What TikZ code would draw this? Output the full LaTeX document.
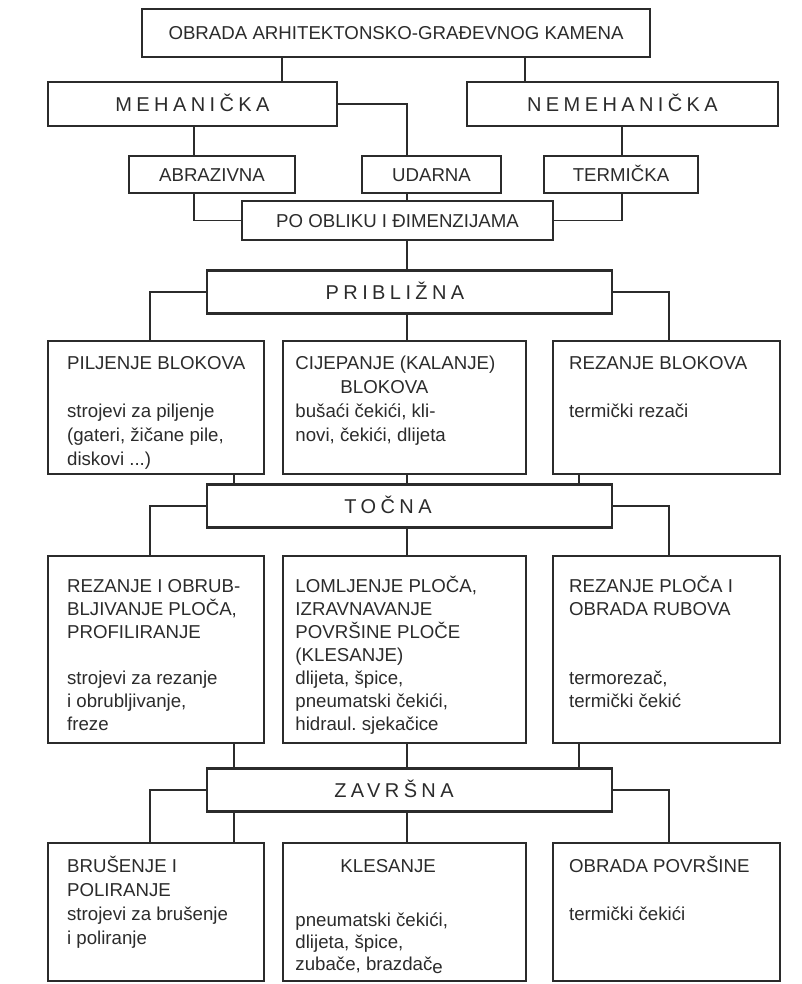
\documentclass[tikz,border=0pt]{standalone}
\usepackage{fontspec}
\setmainfont{Liberation Sans}
\usetikzlibrary{positioning}

\definecolor{ink}{HTML}{2B2B2B}
\newcommand\spaced[1]{{\addfontfeature{LetterSpace=22}#1}}
\newcommand\topstrut{\rule{0pt}{14pt}}
\frenchspacing

\tikzset{
  frame/.style={draw=ink, line width=1.7pt, inner sep=0pt, text=ink,
    text height=10pt, text depth=0pt, font=\fontsize{14}{17}\selectfont},
  wide/.style={frame, text height=10.7pt, font=\fontsize{15}{18}\selectfont},
  stage/.style={frame, minimum width=303.75pt, minimum height=32.25pt},
  caption/.style={inner sep=0pt, text=ink, text height=10.7pt, text depth=0pt,
    font=\fontsize{15}{18}\selectfont},
  note/.style={inner sep=0pt, anchor=north west, align=left, text=ink,
    font=\fontsize{14}{18}\selectfont},
  wire/.style={draw=ink, line width=0.85pt},
}

\begin{document}
\begin{tikzpicture}[x=0.75pt, y=-0.75pt]
    \useasboundingbox (0,0) rectangle (801,984);

    \coordinate (g1) at (282,0);
    \coordinate (g2) at (525,0);
    \coordinate (g3) at (194,0);
    \coordinate (g4) at (407,0);
    \coordinate (g5) at (622,0);
    \coordinate (g6) at (150,0);
    \coordinate (g7) at (669,0);
    \coordinate (g8) at (234,0);
    \coordinate (g9) at (579,0);

    \node (top) [frame, minimum width=381pt, minimum height=36pt] at (396,33) {OBRADA ARHITEKTONSKO-GRAĐEVNOG KAMENA};
    \node (meh) [wide, minimum width=216.75pt, minimum height=33pt] at (192.5,104) {\spaced{MEHANIČKA}};
    \node (nemeh) [wide, minimum width=233.25pt, minimum height=33pt] at (622.5,104) {\spaced{NEMEHANIČKA}};
    \node (abr) [frame, minimum width=124.5pt, minimum height=27.75pt] at (212,174.5) {ABRAZIVNA};
    \node (udar) [frame, minimum width=104.25pt, minimum height=27.75pt] at (431.5,174.5) {UDARNA};
    \node (term) [frame, minimum width=115.5pt, minimum height=27.75pt] at (621,174.5) {TERMIČKA};
    \node (po) [frame, minimum width=233.25pt, minimum height=29.25pt] at (397.5,220.5) {PO OBLIKU I ĐIMENZIJAMA};

    \node (pri) [stage] at (409.5,292) {};
    \node (pri-t) [caption] at (395,292) {\spaced{PRIBLIŽNA}};
    \node (toc) [stage] at (409.5,506) {};
    \node (toc-t) [caption] at (388,506) {\spaced{TOČNA}};
    \node (zav) [stage] at (409.5,790) {};
    \node (zav-t) [caption] at (394,790) {\spaced{ZAVRŠNA}};

    \node (pil) [frame, minimum width=162pt, minimum height=99.75pt] at (156,407.5) {};
    \node (cij) [frame, minimum width=182.25pt, minimum height=99.75pt] at (404.5,407.5) {};
    \node (rezb) [frame, minimum width=170.25pt, minimum height=99.75pt] at (666.5,407.5) {};
    \node (rez) [frame, minimum width=162pt, minimum height=140.25pt] at (156,649.5) {};
    \node (lom) [frame, minimum width=182.25pt, minimum height=140.25pt] at (404.5,649.5) {};
    \node (rezp) [frame, minimum width=170.25pt, minimum height=140.25pt] at (666.5,649.5) {};
    \node (bru) [frame, minimum width=162pt, minimum height=103.5pt] at (156,912) {};
    \node (kle) [frame, minimum width=182.25pt, minimum height=103.5pt] at (404.5,912) {};
    \node (obr) [frame, minimum width=170.25pt, minimum height=103.5pt] at (666.5,912) {};

    \node (pil-t) [note, below right=7.75pt and 15pt of pil.north west]
        {\topstrut PILJENJE BLOKOVA\\[18pt] strojevi za piljenje\\ (gateri, žičane pile,\\ diskovi ...)};
    \node (cij-t) [note, below right=7.75pt and 10pt of cij.north west]
        {\topstrut CIJEPANJE (KALANJE)\\ \hspace*{33.75pt}BLOKOVA\\ bušaći čekići, kli-\\ novi, čekići, dlijeta};
    \node (rezb-t) [note, below right=7.75pt and 12.75pt of rezb.north west]
        {\topstrut REZANJE BLOKOVA\\[18pt] termički rezači};

    \node (rez-t) [note, font=\fontsize{14}{17.25}\selectfont, below right=13.75pt and 15pt of rez.north west]
        {\topstrut REZANJE I OBRUB-\\ BLJIVANJE PLOČA,\\ PROFILIRANJE\\[17.25pt] strojevi za rezanje\\ i obrubljivanje,\\ freze};
    \node (lom-t) [note, font=\fontsize{14}{17.25}\selectfont, below right=13.75pt and 10pt of lom.north west]
        {\topstrut LOMLJENJE PLOČA,\\ IZRAVNAVANJE\\ POVRŠINE PLOČE\\ (KLESANJE)\\ dlijeta, špice,\\ pneumatski čekići,\\ hidraul. sjekačice};
    \node (rezp-t) [note, font=\fontsize{14}{17.25}\selectfont, below right=13.75pt and 12.75pt of rezp.north west]
        {\topstrut REZANJE PLOČA I\\ OBRADA RUBOVA\\[34.5pt] termorezač,\\ termički čekić};

    \node (bru-t) [note, below right=8.5pt and 15pt of bru.north west]
        {\topstrut BRUŠENJE I\\ POLIRANJE\\ strojevi za brušenje\\ i poliranje};
    \node (kle-t) [note, font=\fontsize{14}{16.5}\selectfont, below right=8.5pt and 10pt of kle.north west]
        {\topstrut\hspace*{33.75pt}KLESANJE\\[24.5pt] pneumatski čekići,\\ dlijeta, špice,\\ zubače, brazdač\raisebox{-2pt}{e}};
    \node (obr-t) [note, below right=8.5pt and 12.75pt of obr.north west]
        {\topstrut OBRADA POVRŠINE\\[18pt] termički čekići};

    \draw[wire] (top.south -| g1) -- (meh.north -| g1);
    \draw[wire] (top.south -| g2) -- (nemeh.north -| g2);
    \draw[wire] (meh.south -| g3) -- (abr.north -| g3);
    \draw[wire] (meh.east) -| (udar.north -| g4);
    \draw[wire] (nemeh.south -| g5) -- (term.north -| g5);
    \draw[wire] (abr.south -| g3) |- (po.west);
    \draw[wire] (udar.south -| g4) -- (po.north -| g4);
    \draw[wire] (term.south -| g5) |- (po.east);
    \draw[wire] (po.south -| g4) -- (pri.north -| g4);

    \draw[wire] (pri.west) -| (pil.north -| g6);
    \draw[wire] (pri.south -| g4) -- (cij.north -| g4);
    \draw[wire] (pri.east) -| (rezb.north -| g7);
    \draw[wire] (pil.south -| g8) -- (toc.north -| g8);
    \draw[wire] (cij.south -| g4) -- (toc.north -| g4);
    \draw[wire] (rezb.south -| g9) -- (toc.north -| g9);

    \draw[wire] (toc.west) -| (rez.north -| g6);
    \draw[wire] (toc.south -| g4) -- (lom.north -| g4);
    \draw[wire] (toc.east) -| (rezp.north -| g7);
    \draw[wire] (rez.south -| g8) -- (zav.north -| g8);
    \draw[wire] (lom.south -| g4) -- (zav.north -| g4);
    \draw[wire] (rezp.south -| g9) -- (zav.north -| g9);

    \draw[wire] (zav.west) -| (bru.north -| g6);
    \draw[wire] (zav.south -| g8) -- (bru.north -| g8);
    \draw[wire] (zav.south -| g4) -- (kle.north -| g4);
    \draw[wire] (zav.east) -| (obr.north -| g7);
\end{tikzpicture}
\end{document}
